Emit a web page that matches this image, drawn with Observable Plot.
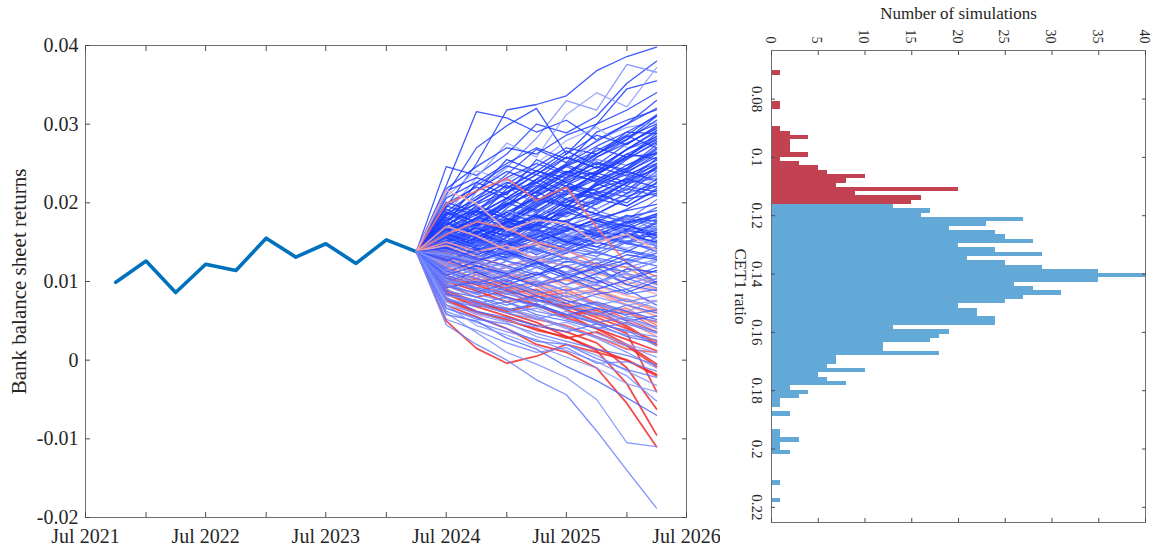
<!DOCTYPE html>
<html><head><meta charset="utf-8">
<script src="https://cdn.jsdelivr.net/npm/d3@7"></script>
<script src="https://cdn.jsdelivr.net/npm/@observablehq/plot@0.6"></script>
<style>
html,body{margin:0;padding:0;background:#fff;}
#wrap{position:relative;width:1151px;height:546px;overflow:hidden;background:#fff;}
#left{position:absolute;left:0;top:0;}
#right{position:absolute;left:720px;top:0;}
</style></head><body>
<div id="wrap"><div id="left"></div><div id="right"></div></div>
<script>
// ---------- Left panel data ----------
const histDates = ["2021-10-01","2022-01-01","2022-04-01","2022-07-01","2022-10-01","2023-01-01","2023-04-01","2023-07-01","2023-10-01","2024-01-01","2024-04-01"];
const histValues = [0.0099,0.0126,0.0086,0.0122,0.0114,0.0155,0.0131,0.0148,0.0123,0.0153,0.0138];
const projDates = ["2024-04-01","2024-07-01","2024-10-01","2025-01-01","2025-04-01","2025-07-01","2025-10-01","2026-01-01","2026-04-01"];
const halfYearTicks = ["2021-07-01","2022-01-01","2022-07-01","2023-01-01","2023-07-01","2024-01-01","2024-07-01","2025-01-01","2025-07-01","2026-01-01","2026-07-01"];
const yearTicks = ["2021-07-01","2022-07-01","2023-07-01","2024-07-01","2025-07-01","2026-07-01"];
const returnTicks = [-0.02,-0.01,0,0.01,0.02,0.03,0.04];

// simulated paths (a sample of the simulations), quarterly after Apr 2024
const simPaths = [
// top
[.0195,.0250,.0318,.0325,.0336,.0368,.0386,.0398],
[.0246,.0235,.0262,.0300,.0289,.0310,.0352,.0380],
[.0160,.0215,.0245,.0282,.0330,.0318,.0376,.0366],
[.0222,.0316,.0308,.0290,.0305,.0280,.0300,.0330],
[.0210,.0270,.0298,.0320,.0262,.0300,.0345,.0355],
[.0185,.0232,.0276,.0258,.0312,.0340,.0322,.0372],
// high
[.0176,.0205,.0236,.0268,.0251,.0290,.0305,.0318],
[.0201,.0188,.0224,.0246,.0270,.0262,.0281,.0310],
[.0150,.0198,.0230,.0214,.0248,.0280,.0296,.0302],
[.0172,.0226,.0210,.0255,.0238,.0261,.0290,.0288],
[.0189,.0214,.0255,.0240,.0266,.0248,.0275,.0296],
[.0163,.0180,.0218,.0240,.0232,.0270,.0258,.0285],
[.0208,.0241,.0228,.0250,.0279,.0296,.0270,.0276],
[.0140,.0172,.0196,.0230,.0258,.0244,.0268,.0292],
[.0182,.0160,.0193,.0220,.0247,.0262,.0285,.0270],
[.0194,.0222,.0247,.0236,.0221,.0258,.0280,.0305],
[.0155,.0190,.0182,.0215,.0240,.0236,.0262,.0280],
[.0170,.0201,.0220,.0198,.0232,.0255,.0248,.0266],
[.0215,.0232,.0219,.0241,.0226,.0240,.0268,.0284],
[.0146,.0169,.0205,.0222,.0210,.0238,.0259,.0262],
[.0188,.0176,.0198,.0225,.0246,.0230,.0244,.0274],
// upper-middle
[.0171,.0196,.0184,.0210,.0232,.0250,.0242,.0268],
[.0148,.0170,.0198,.0214,.0236,.0228,.0255,.0278],
[.0186,.0204,.0226,.0212,.0238,.0262,.0284,.0300],
[.0158,.0182,.0170,.0196,.0222,.0240,.0262,.0256],
[.0199,.0220,.0206,.0230,.0248,.0236,.0258,.0288],
[.0166,.0150,.0178,.0204,.0196,.0226,.0248,.0264],
[.0142,.0164,.0188,.0208,.0230,.0252,.0238,.0262],
[.0180,.0208,.0232,.0250,.0236,.0258,.0276,.0294],
[.0154,.0178,.0200,.0188,.0214,.0238,.0226,.0250],
[.0192,.0174,.0196,.0218,.0240,.0226,.0244,.0270],
[.0164,.0192,.0214,.0236,.0258,.0244,.0268,.0290],
[.0176,.0160,.0184,.0206,.0200,.0224,.0212,.0240],
[.0138,.0156,.0174,.0200,.0222,.0216,.0240,.0258],
[.0206,.0226,.0250,.0270,.0256,.0278,.0300,.0320],
[.0168,.0188,.0176,.0202,.0226,.0210,.0232,.0248],
[.0150,.0174,.0162,.0186,.0210,.0234,.0222,.0246],
[.0184,.0216,.0240,.0226,.0250,.0272,.0290,.0310],
[.0160,.0146,.0170,.0194,.0216,.0236,.0256,.0276],
[.0178,.0200,.0222,.0208,.0228,.0246,.0234,.0254],
[.0144,.0166,.0190,.0182,.0204,.0222,.0242,.0264],
[.0196,.0184,.0206,.0230,.0214,.0236,.0258,.0282],
[.0172,.0190,.0212,.0236,.0262,.0286,.0274,.0298],
[.0130,.0152,.0174,.0192,.0182,.0204,.0226,.0234],
[.0218,.0246,.0270,.0262,.0286,.0300,.0318,.0340],
[.0164,.0180,.0202,.0226,.0248,.0266,.0286,.0312],
// mid-high
[.0160,.0174,.0188,.0206,.0195,.0222,.0236,.0250],
[.0138,.0162,.0180,.0172,.0205,.0218,.0230,.0242],
[.0178,.0190,.0172,.0196,.0214,.0205,.0228,.0256],
[.0152,.0144,.0170,.0192,.0184,.0210,.0226,.0238],
[.0166,.0185,.0206,.0190,.0212,.0230,.0216,.0245],
[.0131,.0150,.0176,.0198,.0220,.0206,.0225,.0231],
[.0174,.0162,.0180,.0168,.0195,.0224,.0240,.0228],
[.0149,.0178,.0165,.0188,.0206,.0198,.0217,.0236],
[.0184,.0198,.0214,.0226,.0204,.0192,.0212,.0224],
[.0125,.0141,.0166,.0185,.0174,.0200,.0221,.0214],
[.0158,.0172,.0157,.0180,.0201,.0214,.0196,.0218],
[.0143,.0166,.0190,.0176,.0168,.0192,.0210,.0232],
[.0170,.0156,.0175,.0200,.0221,.0210,.0200,.0226],
[.0136,.0158,.0149,.0172,.0190,.0215,.0208,.0221],
[.0162,.0181,.0199,.0214,.0196,.0186,.0205,.0212],
[.0120,.0146,.0170,.0164,.0186,.0202,.0226,.0244],
[.0155,.0137,.0160,.0182,.0176,.0199,.0218,.0209],
[.0188,.0170,.0188,.0174,.0198,.0186,.0206,.0230],
[.0146,.0160,.0182,.0200,.0214,.0190,.0178,.0204],
[.0132,.0155,.0142,.0166,.0188,.0205,.0196,.0216],
[.0172,.0194,.0180,.0170,.0192,.0212,.0230,.0220],
[.0151,.0133,.0156,.0178,.0194,.0176,.0192,.0210],
// middle
[.0142,.0150,.0162,.0155,.0174,.0168,.0182,.0190],
[.0128,.0139,.0152,.0166,.0158,.0176,.0170,.0186],
[.0150,.0164,.0146,.0160,.0178,.0186,.0175,.0178],
[.0135,.0122,.0140,.0158,.0150,.0168,.0180,.0172],
[.0158,.0146,.0160,.0150,.0168,.0158,.0176,.0182],
[.0120,.0135,.0150,.0142,.0160,.0174,.0166,.0168],
[.0146,.0160,.0176,.0164,.0150,.0162,.0158,.0176],
[.0138,.0128,.0144,.0156,.0170,.0152,.0164,.0160],
[.0162,.0170,.0158,.0172,.0160,.0148,.0166,.0170],
[.0126,.0142,.0134,.0150,.0166,.0178,.0160,.0156],
[.0152,.0138,.0150,.0138,.0154,.0170,.0184,.0164],
[.0140,.0156,.0170,.0184,.0168,.0158,.0148,.0162],
[.0116,.0130,.0148,.0160,.0146,.0164,.0176,.0152],
[.0155,.0168,.0152,.0140,.0158,.0150,.0166,.0158],
[.0132,.0144,.0128,.0146,.0164,.0156,.0148,.0170],
[.0148,.0134,.0146,.0162,.0150,.0140,.0158,.0150],
[.0124,.0116,.0134,.0150,.0166,.0174,.0162,.0148],
[.0160,.0150,.0138,.0154,.0142,.0160,.0150,.0166],
[.0136,.0148,.0162,.0150,.0136,.0152,.0168,.0144],
[.0144,.0160,.0150,.0134,.0148,.0166,.0156,.0174],
[.0130,.0118,.0132,.0146,.0160,.0144,.0138,.0156],
[.0154,.0142,.0128,.0140,.0156,.0168,.0150,.0140],
// middle (2)
[.0148,.0140,.0156,.0172,.0164,.0180,.0190,.0198],
[.0126,.0144,.0160,.0152,.0170,.0184,.0176,.0194],
[.0160,.0152,.0168,.0182,.0176,.0160,.0174,.0186],
[.0134,.0124,.0142,.0136,.0154,.0170,.0162,.0180],
[.0152,.0168,.0158,.0174,.0188,.0178,.0166,.0184],
[.0118,.0132,.0128,.0146,.0160,.0152,.0170,.0164],
[.0144,.0130,.0148,.0164,.0152,.0168,.0184,.0176],
[.0166,.0176,.0164,.0150,.0164,.0180,.0170,.0162],
[.0130,.0148,.0140,.0130,.0146,.0158,.0150,.0168],
[.0156,.0142,.0130,.0148,.0140,.0156,.0172,.0158],
[.0122,.0112,.0126,.0142,.0136,.0150,.0142,.0154],
[.0150,.0162,.0176,.0166,.0150,.0144,.0160,.0150],
[.0138,.0152,.0144,.0160,.0174,.0160,.0148,.0142],
[.0164,.0150,.0142,.0128,.0142,.0136,.0152,.0146],
[.0128,.0136,.0150,.0164,.0148,.0136,.0128,.0144],
[.0146,.0154,.0138,.0122,.0136,.0150,.0140,.0132],
[.0140,.0126,.0118,.0132,.0124,.0140,.0156,.0148],
[.0120,.0138,.0152,.0140,.0130,.0122,.0138,.0130],
[.0158,.0144,.0156,.0142,.0128,.0138,.0126,.0136],
[.0132,.0120,.0110,.0124,.0138,.0128,.0118,.0128],
// below-threshold simulations
[.0070,.0055,.0040,.0020,.0010,-.0010,-.0055,-.0110],
[.0090,.0072,.0060,.0048,.0030,.0012,-.0030,-.0095],
[.0050,.0015,-.0004,.0005,.0020,.0010,0,-.0020],
[.0199,.0215,.0231,.0203,.0220,.0169,.0123,.0106],
[.0120,.0102,.0090,.0098,.0080,.0062,.0050,.0030],
[.0104,.0096,.0080,.0070,.0058,.0040,.0020,-.0005],
[.0130,.0118,.0104,.0110,.0092,.0084,.0070,.0060],
[.0086,.0070,.0066,.0052,.0044,.0030,.0014,.0010],
[.0110,.0126,.0112,.0096,.0104,.0088,.0076,.0064],
[.0096,.0080,.0088,.0070,.0056,.0064,.0042,.0020],
[.0140,.0130,.0120,.0132,.0118,.0100,.0096,.0084],
[.0078,.0062,.0050,.0040,.0028,.0036,.0018,-.0008],
[.0118,.0100,.0108,.0094,.0076,.0060,.0066,.0044],
[.0150,.0138,.0146,.0128,.0120,.0110,.0100,.0090],
[.0100,.0088,.0074,.0082,.0064,.0050,.0034,-.0040],
[.0126,.0112,.0096,.0084,.0090,.0072,.0060,.0048],
[.0092,.0104,.0090,.0076,.0068,.0054,.0040,.0024],
[.0160,.0176,.0168,.0150,.0140,.0122,.0118,.0096],
[.0216,.0199,.0165,.0178,.0174,.0150,.0160,.0140],
[.0112,.0098,.0084,.0090,.0072,.0058,.0044,.0020],
[.0084,.0068,.0056,.0044,.0036,.0022,-.0010,-.0062],
[.0136,.0124,.0110,.0096,.0102,.0088,.0070,.0056],
[.0098,.0108,.0094,.0080,.0086,.0070,.0052,.0036],
[.0076,.0060,.0052,.0038,.0030,.0014,0,-.0018],
[.0124,.0110,.0118,.0100,.0084,.0090,.0076,.0062],
[.0108,.0092,.0100,.0086,.0070,.0056,.0062,.0040],
[.0146,.0132,.0120,.0126,.0108,.0094,.0082,.0074],
[.0088,.0074,.0062,.0070,.0054,.0040,.0026,.0012],
[.0170,.0158,.0140,.0148,.0130,.0120,.0108,.0096],
// mid-low
[.0130,.0124,.0112,.0128,.0140,.0132,.0150,.0138],
[.0118,.0132,.0140,.0124,.0112,.0130,.0122,.0136],
[.0142,.0130,.0120,.0108,.0126,.0118,.0134,.0128],
[.0110,.0104,.0120,.0132,.0118,.0108,.0124,.0140],
[.0126,.0140,.0126,.0118,.0104,.0120,.0112,.0126],
[.0136,.0120,.0108,.0122,.0130,.0112,.0104,.0118],
[.0112,.0126,.0138,.0126,.0110,.0098,.0116,.0112],
[.0122,.0108,.0118,.0104,.0120,.0128,.0110,.0102],
[.0140,.0128,.0136,.0120,.0108,.0116,.0128,.0120],
[.0104,.0116,.0102,.0118,.0130,.0114,.0096,.0108],
[.0128,.0114,.0100,.0112,.0096,.0110,.0124,.0098],
[.0116,.0100,.0114,.0098,.0108,.0096,.0112,.0126],
[.0132,.0120,.0106,.0096,.0110,.0124,.0104,.0092],
[.0108,.0120,.0110,.0124,.0106,.0090,.0102,.0114],
[.0124,.0112,.0126,.0110,.0096,.0106,.0090,.0104],
[.0114,.0098,.0108,.0094,.0104,.0118,.0096,.0088],
[.0134,.0126,.0112,.0102,.0088,.0100,.0110,.0096],
[.0100,.0112,.0096,.0108,.0120,.0102,.0086,.0100],
// low
[.0106,.0092,.0084,.0096,.0080,.0088,.0074,.0082],
[.0094,.0086,.0098,.0082,.0072,.0084,.0090,.0070],
[.0112,.0098,.0086,.0074,.0086,.0070,.0062,.0076],
[.0088,.0080,.0070,.0082,.0068,.0058,.0070,.0060],
[.0098,.0084,.0092,.0076,.0064,.0072,.0056,.0050],
[.0084,.0076,.0064,.0072,.0058,.0066,.0050,.0056],
[.0102,.0090,.0078,.0068,.0076,.0060,.0052,.0040],
[.0076,.0068,.0074,.0058,.0050,.0040,.0048,.0036],
[.0090,.0072,.0060,.0052,.0062,.0048,.0036,.0030],
[.0080,.0062,.0054,.0044,.0036,.0046,.0030,.0022],
// low (2)
[.0116,.0104,.0092,.0100,.0088,.0096,.0084,.0090],
[.0100,.0092,.0084,.0074,.0082,.0070,.0078,.0066],
[.0092,.0100,.0088,.0078,.0066,.0074,.0062,.0052],
[.0122,.0108,.0098,.0086,.0094,.0080,.0070,.0076],
[.0086,.0072,.0080,.0068,.0058,.0048,.0054,.0042],
[.0108,.0096,.0102,.0088,.0076,.0066,.0058,.0064],
[.0078,.0070,.0060,.0066,.0052,.0042,.0032,.0026],
[.0096,.0084,.0074,.0062,.0054,.0060,.0046,.0034],
[.0070,.0060,.0050,.0042,.0048,.0034,.0020,.0010],
[.0104,.0090,.0080,.0070,.0058,.0046,.0038,.0018],
[.0082,.0076,.0064,.0054,.0040,.0030,.0018,.0004],
[.0066,.0052,.0046,.0034,.0024,.0014,.0006,-.0006],
[.0094,.0080,.0066,.0056,.0042,.0028,.0010,-.0010],
[.0074,.0058,.0048,.0030,.0020,.0006,-.0014,-.0032],
[.0062,.0048,.0036,.0026,.0012,-.0002,-.0020,-.0052],
// lowest
[.0045,.0020,0,-.0025,-.0044,-.0090,-.0140,-.0188],
[.0060,.0035,.0010,-.0005,-.0022,-.0050,-.0105,-.0110],
[.0058,.0050,.0028,.0014,-.0008,-.0026,-.0048,-.0070],
[.0070,.0044,.0032,.0018,.0004,-.0010,-.0030,-.0040],
[.0066,.0054,.0040,.0024,.0020,.0002,-.0012,-.0022],
[.0052,.0038,.0022,.0010,.0016,-.0004,-.0002,-.0014]
];
// final CET1 ratio of each sampled simulation (same order as simPaths)
const simCET1 = [
.182,.165,.124,.171,.150,.121,
.158,.147,.122,.166,.139,.152,.119,.144,.160,.136,.148,.125,.141,.155,.133,
.150,.142,.161,.137,.155,.146,.139,.158,.143,.149,.163,.134,.141,.170,.138,.145,.160,.136,.152,.140,.147,.156,.131,.176,.153,
.145,.138,.151,.120,.142,.135,.149,.129,.157,.137,.143,.118,.146,.134,.140,.153,.131,.148,.127,.139,.144,.136,
.138,.132,.146,.128,.141,.119,.135,.143,.130,.137,.126,.142,.134,.139,.122,.136,.131,.145,.128,.140,.133,.124,
.137,.131,.140,.126,.143,.122,.134,.139,.128,.136,.121,.141,.133,.129,.127,.135,.124,.132,.130,.123,
.085,.094,.101,.108,.112,.098,.114,.105,.111,.103,.115,.096,.109,.113,.090,.107,.102,.110,.1155,
.104,.088,.112,.106,.097,.113,.108,.115,.100,.114,
.130,.127,.135,.121,.133,.128,.137,.124,.131,.126,.134,.120,.129,.136,.125,.132,.123,.138,
.127,.131,.122,.129,.125,.133,.121,.128,.124,.130,
.128,.125,.131,.122,.127,.130,.124,.126,.121,.129,.123,.127,.125,.122,.124,
.126,.123,.129,.121,.127,.125
];

// ---------- Right panel data ----------
const cet1Threshold = 0.1162;
const binWidth = 0.00148;
const redCounts = [1,0,0,0,0,0,0,1,1,0,0,0,0,1,2,4,2,2,2,4,1,3,5,6,10,8,7,20,9,16,15];
const blueCounts = [13,17,16,27,23,19,24,25,28,20,24,29,21,25,29,35,40,35,26,28,31,27,25,20,22,22,24,24,13,19,18,17,12,12,18,7,7,6,10,5,6,8,2,4,3,1,1,0,2,0,0,0,1,1,3,1,1,2,0,0,0,0,0,0,1,0,0,0,1];
const countTicks = [0,5,10,15,20,25,30,35,40];
const cet1Ticks = [0.08,0.10,0.12,0.14,0.16,0.18,0.20,0.22];

// ---------- styling ----------
const FONT = "'Liberation Serif','Times New Roman',serif";
const TEXT = "#262626", FRAME = "#707070", TICK = "#4a4a4a";
const blueInterp = d3.interpolateRgb("#c9d3ff", "#1b3cff");
const redInterp = d3.interpolateRgb("#ffd2d2", "#ee2a2a");
function simColor(c) {
  if (c >= cet1Threshold) return blueInterp(0.15 + 0.85 * Math.min(1, (c - cet1Threshold) / 0.02));
  return redInterp(0.15 + 0.85 * Math.min(1, (cet1Threshold - c) / 0.016));
}

const hist = histDates.map((d, i) => ({date: new Date(d), value: histValues[i]}));
const start = histValues[histValues.length - 1];
const simTable = simPaths.flatMap((p, i) => [start, ...p].map((v, k) => ({
  sim: i, date: new Date(projDates[k]), value: v,
  color: simColor(simCET1[i]),
  sw: simCET1[i] < cet1Threshold ? 1.8 : 1.3
})));

const fmtRet = d => d === 0 ? "0" : d.toFixed(2);
const leftPlot = Plot.plot({
  width: 720, height: 546,
  marginLeft: 85, marginRight: 34, marginTop: 45, marginBottom: 29,
  style: {fontFamily: FONT, fontSize: "20px", color: TEXT, background: "#fff"},
  x: {type: "utc", domain: [new Date("2021-07-01"), new Date("2026-07-01")]},
  y: {domain: [-0.02, 0.04]},
  color: {type: "identity"},
  marks: [
    Plot.line(hist, {x: "date", y: "value", stroke: "#0072BD", strokeWidth: 3.6}),
    Plot.line(simTable, {x: "date", y: "value", z: "sim", stroke: "color", strokeWidth: "sw", strokeOpacity: 0.85}),
    Plot.frame({stroke: FRAME}),
    Plot.axisX({anchor: "bottom", ticks: halfYearTicks.map(d => new Date(d)), tickSize: -5, fill: "none", stroke: TICK, label: null}),
    Plot.axisX({anchor: "top", ticks: halfYearTicks.map(d => new Date(d)), tickSize: -5, fill: "none", stroke: TICK, label: null}),
    Plot.axisX({anchor: "bottom", ticks: yearTicks.map(d => new Date(d)), tickSize: 0, tickPadding: 11, tickFormat: d3.utcFormat("%b %Y"), label: null}),
    Plot.axisY({anchor: "left", ticks: returnTicks, tickSize: -5, fill: "none", stroke: TICK, label: null}),
    Plot.axisY({anchor: "right", ticks: returnTicks, tickSize: -5, fill: "none", stroke: TICK, label: null}),
    Plot.axisY({anchor: "left", ticks: returnTicks, tickSize: 0, tickPadding: 7, tickFormat: fmtRet, label: null}),
    Plot.text(["Bank balance sheet returns"], {frameAnchor: "left", dx: -66, rotate: -90, textAnchor: "middle", lineAnchor: "middle", fontSize: 21, text: d => d})
  ]
});
document.getElementById("left").appendChild(leftPlot);

const bins = [
  ...redCounts.map((c, i) => ({k: i - redCounts.length, count: c})),
  ...blueCounts.map((c, i) => ({k: i, count: c}))
].filter(d => d.count > 0).map(d => ({
  lo: cet1Threshold + d.k * binWidth,
  hi: cet1Threshold + (d.k + 1) * binWidth,
  count: d.count,
  color: d.k < 0 ? "#c24251" : "#63a9d7"
}));

const fmtCet = d => String(+d.toFixed(2));
const rightPlot = Plot.plot({
  width: 431, height: 546,
  marginLeft: 51, marginRight: 6, marginTop: 50, marginBottom: 24,
  style: {fontFamily: FONT, fontSize: "16px", color: TEXT, background: "#fff"},
  x: {domain: [0, 40]},
  y: {domain: [0.06335, 0.2252], reverse: true},
  color: {type: "identity"},
  marks: [
    Plot.rect(bins, {x1: () => 0, x2: "count", y1: "lo", y2: "hi", fill: "color", shapeRendering: "crispEdges"}),
    Plot.frame({stroke: FRAME}),
    Plot.axisX({anchor: "top", ticks: countTicks, tickSize: -4, fill: "none", stroke: TICK, label: null}),
    Plot.axisX({anchor: "bottom", ticks: countTicks, tickSize: -4, fill: "none", stroke: TICK, label: null}),
    Plot.axisY({anchor: "left", ticks: cet1Ticks, tickSize: -4, fill: "none", stroke: TICK, label: null}),
    Plot.axisY({anchor: "right", ticks: cet1Ticks, tickSize: -4, fill: "none", stroke: TICK, label: null}),
    Plot.text(countTicks, {x: d => d, frameAnchor: "top", dy: -7, dx: -1.5, rotate: 90, textAnchor: "end", lineAnchor: "middle", fontSize: 14, text: d => String(d)}),
    Plot.text(cet1Ticks, {y: d => d, frameAnchor: "left", dx: -9, rotate: 90, textAnchor: "middle", lineAnchor: "top", fontSize: 15, text: fmtCet}),
    Plot.text(["Number of simulations"], {frameAnchor: "top", dy: -37, textAnchor: "middle", lineAnchor: "middle", fontSize: 17, text: d => d}),
    Plot.text(["CET1 ratio"], {frameAnchor: "left", dx: -31, rotate: 90, textAnchor: "middle", lineAnchor: "middle", fontSize: 17, text: d => d})
  ]
});
document.getElementById("right").appendChild(rightPlot);
</script></body></html>
